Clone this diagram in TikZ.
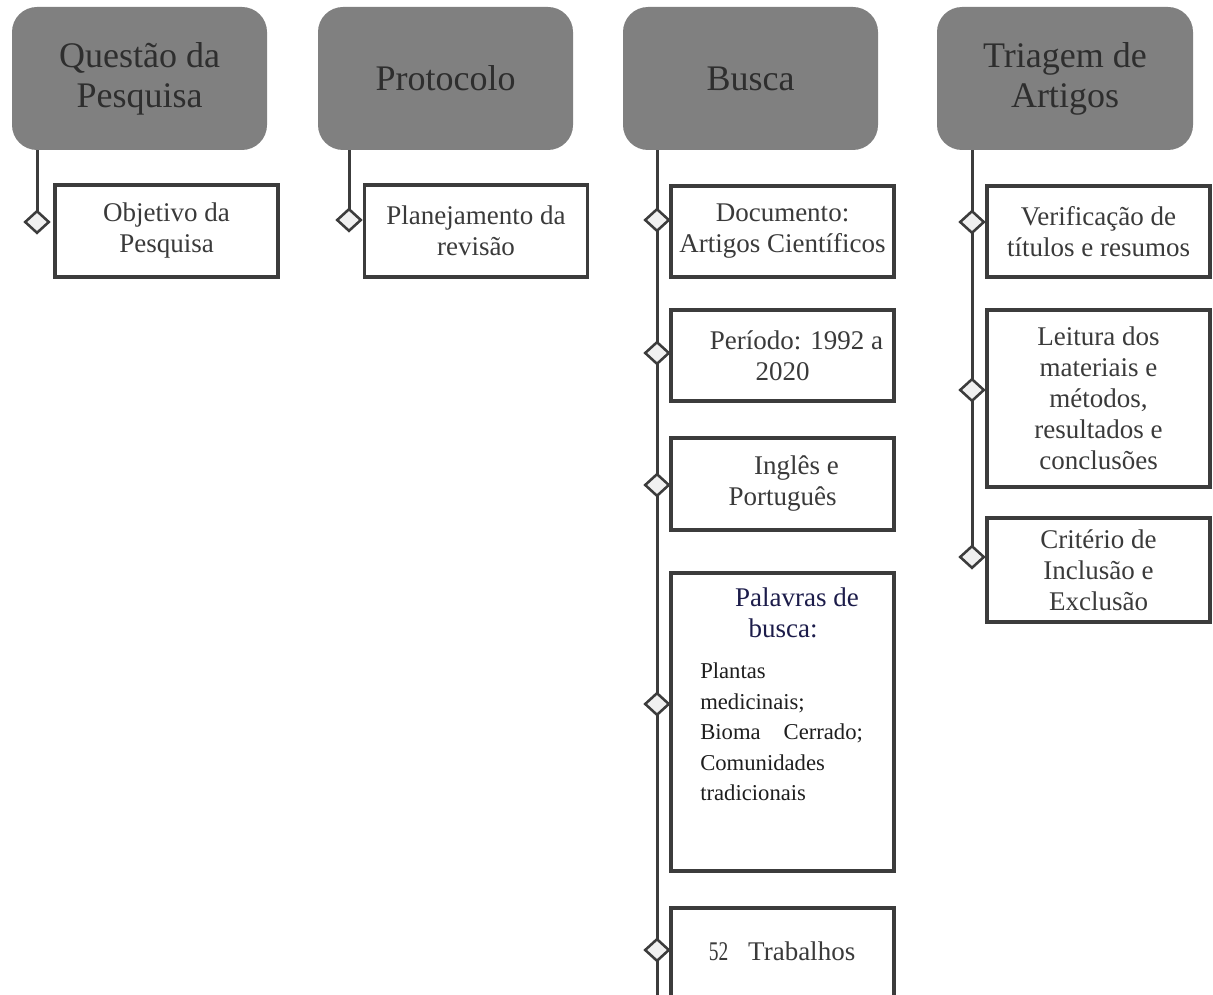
\documentclass[tikz,border=0pt]{standalone}
\usepackage{fontspec}
\usepackage{graphicx}
\setmainfont{Liberation Serif}
\usetikzlibrary{shapes.geometric,backgrounds}
\definecolor{hdrfill}{HTML}{808080}
\definecolor{hdrtext}{HTML}{2E2E2E}
\definecolor{linec}{HTML}{3C3C3C}
\definecolor{boxtext}{HTML}{3A3A3A}
\definecolor{kwnavy}{HTML}{1C1C4A}
\definecolor{kwtext}{HTML}{1E1E1E}
\definecolor{dfill}{HTML}{F0F0F0}
\begin{document}
\begin{tikzpicture}[x=0.75pt,y=-0.75pt,
  header/.style={rectangle, rounded corners=18.75pt, fill=hdrfill, draw=none,
    text=hdrtext, align=center, font=\fontsize{27}{30}\selectfont,
    minimum width=191.25pt, minimum height=107.25pt, inner sep=0pt},
  childbox/.style={rectangle, draw=linec, line width=2.3pt, fill=white,
    text=boxtext, align=center, font=\fontsize{20.25}{23.25}\selectfont,
    inner sep=0pt, minimum width=167.25pt},
  conn/.style={draw=linec, line width=2.25pt},
  diam/.style={diamond, draw=linec, fill=dfill, line width=1.9pt,
    minimum width=18.5pt, minimum height=17pt, inner sep=0pt},
  plaintext/.style={inner sep=0pt, font=\fontsize{20.25}{23.25}\selectfont}
]
\useasboundingbox (0,0) rectangle (1213,995);
\clip (0,0) rectangle (1213,995);

% headers
\node[header] (h1) at (139.5,78.5) {Questão da\\Pesquisa};
\node[header] (h2) at (445.5,78.5) {Protocolo};
\node[header] (h3) at (750.5,78.5) {Busca};
\node[header,minimum width=192pt] (h4) at (1065,78.5) {Triagem de\\Artigos};

% column 1 and 2
\node[childbox,minimum height=69pt] (c1) at (166.5,231) {Objetivo da\\Pesquisa};
\node[childbox,minimum height=69pt] (c2) at (476,231) {Planejamento da\\revisão};

% column 3
\node[childbox,minimum height=68.25pt] (b1) at (782.5,231.5) {Documento:\\Artigos Científicos};
\node[childbox,minimum height=68.25pt] (b2) at (782.5,355.5) {\hspace*{21pt}Período: 1992 a\\2020};
\node[childbox,minimum height=69pt] (b3) at (782.5,484) {\hspace*{21pt}Inglês e\\Português};
\node[childbox,minimum height=223.5pt] (b4) at (782.5,722) {};
\node[plaintext,text=kwnavy,align=center] (b4t) at (783,613) {\hspace*{21pt}Palavras de\\busca:};
\node[inner sep=0pt,anchor=north west,align=left,text width=123pt,text=kwtext,
  font=\fontsize{17}{22.9}\selectfont] (b4k) at (700,662.5)
  {Plantas\\medicinais;\\\makebox[122pt][l]{Bioma\hfill Cerrado;}\\Comunidades\\tradicionais};
\node[childbox,minimum height=76.5pt] (b5) at (782.5,959) {};
\node[plaintext,text=boxtext] (b5t) at (782,951) {\scalebox{0.72}[1]{52}\hspace{15pt}Trabalhos};

% column 4
\node[childbox,minimum height=68.25pt] (t1) at (1098.5,231.5) {Verificação de\\títulos e resumos};
\node[childbox,minimum height=132.75pt] (t2) at (1098.5,398.5) {Leitura dos\\materiais e\\métodos,\\resultados e\\conclusões};
\node[childbox,minimum height=78pt] (t3) at (1098.5,570) {Critério de\\Inclusão e\\Exclusão};

% diamonds
\node[diam] (d1) at (37,222) {};
\node[diam] (d2) at (349,220) {};
\node[diam] (e1) at (657,220) {};
\node[diam] (e2) at (657,353) {};
\node[diam] (e3) at (657,485) {};
\node[diam] (e4) at (657,704) {};
\node[diam] (e5) at (657,950) {};
\node[diam] (f1) at (972,222) {};
\node[diam] (f2) at (972,390) {};
\node[diam] (f3) at (972,557) {};
\coordinate (e6) at (657,1000);

% connectors
\begin{scope}[on background layer]
\draw[conn] (d1 |- h1.south) -- (d1.center);
\draw[conn] (d2 |- h2.south) -- (d2.center);
\draw[conn] (e1 |- h3.south) -- (e6);
\draw[conn] (f1 |- h4.south) -- (f3.center);
\end{scope}
\end{tikzpicture}
\end{document}
